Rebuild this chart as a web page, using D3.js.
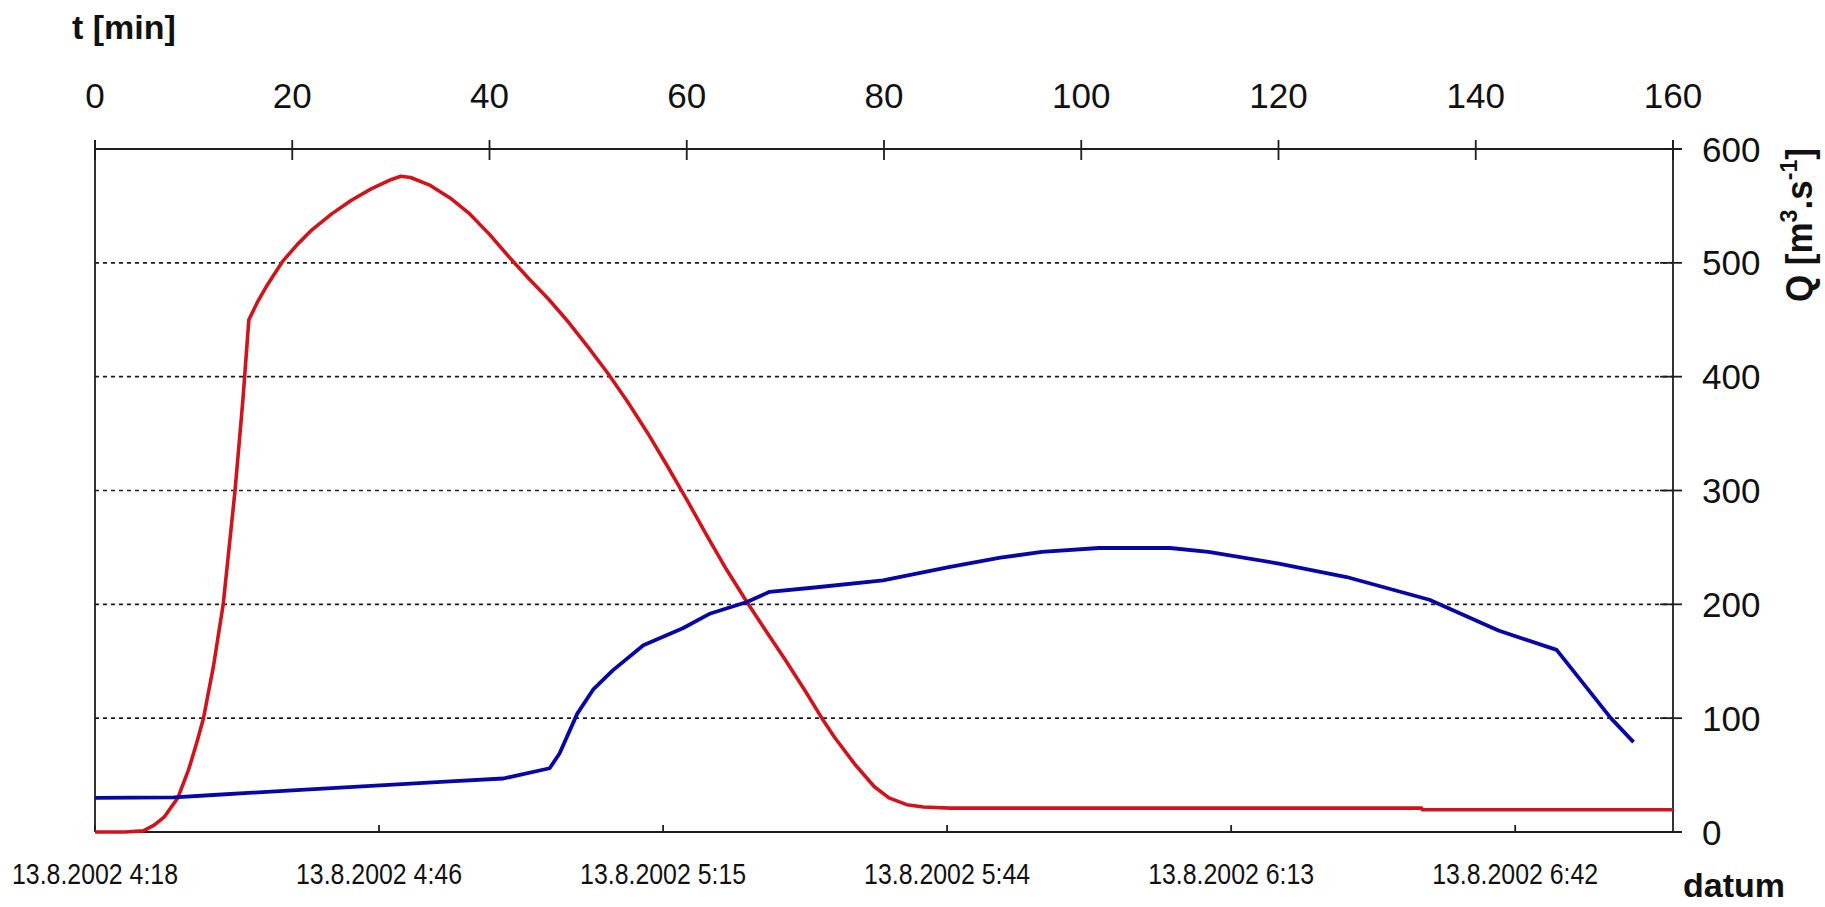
<!DOCTYPE html>
<html>
<head>
<meta charset="utf-8">
<script src="https://cdn.jsdelivr.net/npm/d3@7"></script>
<style>
  html, body { margin: 0; padding: 0; background: #fff; }
  svg { display: block; }
  text { font-family: "Liberation Sans", Arial, sans-serif; fill: #111; }
</style>
</head>
<body>
<svg id="chart" width="1825" height="907"></svg>
<script>
// ---- data ----
// top axis: elapsed time in minutes
const minuteTicks = [0, 20, 40, 60, 80, 100, 120, 140, 160];
// right axis: discharge Q [m3/s]
const flowTicks = [0, 100, 200, 300, 400, 500, 600];
const gridFlows = [100, 200, 300, 400, 500];
// bottom axis: date/time ticks (every 0.02 day)
const startTime = "2002-08-13T04:18:00";
const dateTicks = ["2002-08-13T04:18:00", "2002-08-13T04:46:48", "2002-08-13T05:15:36",
                   "2002-08-13T05:44:24", "2002-08-13T06:13:12", "2002-08-13T06:42:00"];

// inflow hydrograph (red)
const inflowMinutes = [0, 3, 4.9, 6, 7, 8.4, 9.5, 10.3, 11, 12, 13, 14.2, 15, 15.6, 16.5, 17.5,
  19, 20.5, 22, 24, 26, 28, 30, 31, 32, 34, 36, 38, 40, 42, 44, 46, 48, 50, 52, 54, 56, 58,
  60, 62, 64, 66.1, 68, 70, 72, 73.7, 75, 77, 79, 80.5, 82.3, 84, 86.7, 134.5, 134.6, 160];
const inflowQ = [0, 0, 1, 6, 13, 30, 55, 78, 100, 145, 200, 300, 380, 450, 466, 481,
  501, 516, 529, 543, 555, 565, 573, 576, 575, 568, 557, 543, 525, 505, 486, 468, 448, 426, 403, 378, 351, 322,
  292, 261, 231, 202, 177, 151, 124, 100, 83, 60, 40, 30, 24, 22, 21, 21, 19.5, 19.5];

// outflow hydrograph (blue)
const outflowMinutes = [0, 8, 12, 16, 20, 24, 28, 32, 36, 41.4, 46.1, 47.1, 48.9, 50.5, 52.5, 55.6,
  59.6, 62.4, 66.1, 68.4, 73.2, 79.9, 86.7, 91.8, 96, 101.8, 109, 112.9, 119.9, 126.9, 135.3,
  142.3, 148.2, 153.7, 156];
const outflowQ = [30, 30.5, 32.5, 34.5, 36.5, 38.5, 40.5, 42.5, 44.5, 47, 56, 69, 104, 125, 142, 164,
  179, 192, 202, 211, 215, 221, 233, 241, 246, 249.5, 249.5, 246, 236, 224, 204,
  177, 160, 100, 79];

// ---- layout ----
const plot = { left: 95, right: 1673, top: 149, bottom: 832 };
const axisColor = "#1e1e1e";

const svg = d3.select("#chart");
svg.append("rect").attr("width", 1825).attr("height", 907).attr("fill", "#fff");

const x = d3.scaleLinear().domain([0, 160]).range([plot.left, plot.right]);
const y = d3.scaleLinear().domain([0, 600]).range([plot.bottom, plot.top]);
const t0 = new Date(startTime);
const xTime = d3.scaleTime()
  .domain([t0, d3.timeMinute.offset(t0, 160)])
  .range([plot.left, plot.right]);
const fmtDate = d3.timeFormat("%-d.%-m.%Y %-H:%M");

// gridlines
svg.append("g").selectAll("line").data(gridFlows).join("line")
  .attr("x1", plot.left).attr("x2", plot.right)
  .attr("y1", d => y(d)).attr("y2", d => y(d))
  .attr("stroke", "#1a1a1a").attr("stroke-width", 1.6)
  .attr("stroke-dasharray", "4,4");

// axis frame
const axes = svg.append("g").attr("stroke", axisColor).attr("stroke-width", 1.8).attr("fill", "none");
// top axis line + crossing ticks
axes.append("line").attr("x1", plot.left).attr("x2", plot.right + 9)
  .attr("y1", plot.top).attr("y2", plot.top);
axes.selectAll(".tt").data(minuteTicks).join("line")
  .attr("x1", d => x(d)).attr("x2", d => x(d))
  .attr("y1", plot.top - 9).attr("y2", plot.top + 11);
// left axis line
axes.append("line").attr("x1", plot.left).attr("x2", plot.left)
  .attr("y1", plot.top - 9).attr("y2", plot.bottom);
// right axis line + crossing ticks
axes.append("line").attr("x1", plot.right).attr("x2", plot.right)
  .attr("y1", plot.top - 9).attr("y2", plot.bottom);
axes.selectAll(".rt").data(flowTicks).join("line")
  .attr("x1", plot.right - 13).attr("x2", plot.right + 9)
  .attr("y1", d => y(d)).attr("y2", d => y(d));
// bottom axis line + inward ticks
axes.append("line").attr("x1", plot.left).attr("x2", plot.right + 9)
  .attr("y1", plot.bottom).attr("y2", plot.bottom);
axes.selectAll(".bt").data(dateTicks).join("line")
  .attr("x1", d => xTime(new Date(d))).attr("x2", d => xTime(new Date(d)))
  .attr("y1", plot.bottom - 7).attr("y2", plot.bottom);

// hydrograph lines
const line = d3.line().x(d => x(d[0])).y(d => y(d[1]));
const inflow = d3.zip(inflowMinutes, inflowQ);
const outflow = d3.zip(outflowMinutes, outflowQ);

svg.append("path").datum(inflow).attr("d", line)
  .attr("fill", "none").attr("stroke", "#cf151b").attr("stroke-width", 3.6)
  .attr("stroke-linejoin", "round");
svg.append("path").datum(outflow).attr("d", line)
  .attr("fill", "none").attr("stroke", "#0707a6").attr("stroke-width", 3.8)
  .attr("stroke-linejoin", "round");

// top axis labels
svg.append("g").selectAll("text").data(minuteTicks).join("text")
  .attr("x", d => x(d)).attr("y", 108)
  .attr("text-anchor", "middle").attr("font-size", 35)
  .text(d => d);

// right axis labels
svg.append("g").selectAll("text").data(flowTicks).join("text")
  .attr("x", plot.right + 29).attr("y", d => y(d) + 12.5)
  .attr("font-size", 35)
  .text(d => d);

// bottom date labels
svg.append("g").selectAll("text").data(dateTicks).join("text")
  .attr("x", d => xTime(new Date(d))).attr("y", 884)
  .attr("text-anchor", "middle").attr("font-size", 29)
  .attr("textLength", 166).attr("lengthAdjust", "spacingAndGlyphs")
  .text(d => fmtDate(new Date(d)));

// axis titles
svg.append("text").attr("x", 72).attr("y", 39)
  .attr("font-size", 34).attr("font-weight", "bold")
  .text("t [min]");

svg.append("text").attr("x", 1683).attr("y", 897)
  .attr("font-size", 34).attr("font-weight", "bold")
  .text("datum");

const qTitle = svg.append("text")
  .attr("transform", "translate(1812,225) rotate(-90)")
  .attr("text-anchor", "middle")
  .attr("font-size", 36).attr("font-weight", "bold")
  .attr("textLength", 154).attr("lengthAdjust", "spacingAndGlyphs");
qTitle.append("tspan").text("Q [m");
qTitle.append("tspan").attr("font-size", 24).attr("dy", -15).text("3");
qTitle.append("tspan").attr("dy", 15).text(".s");
qTitle.append("tspan").attr("font-size", 24).attr("dy", -15).text("-1");
qTitle.append("tspan").attr("dy", 15).text("]");
</script>
</body>
</html>
